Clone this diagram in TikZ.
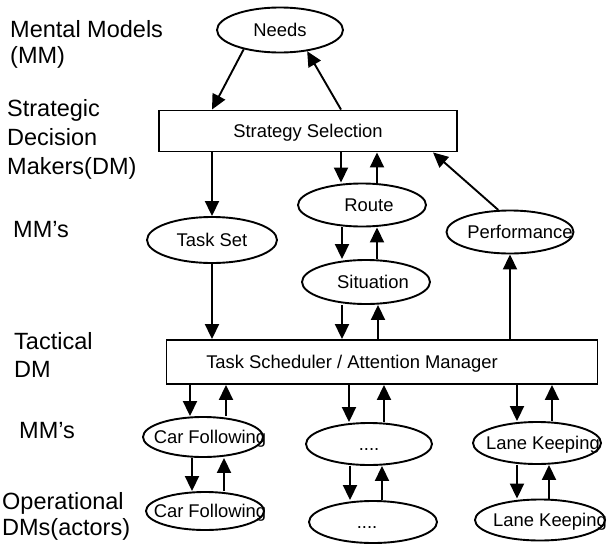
\documentclass[tikz,border=0pt]{standalone}
\usepackage{fontspec}
\setmainfont{Liberation Sans}
\usetikzlibrary{arrows.meta,calc,shapes.geometric}
\newcommand\nodefont{\fontsize{18.4pt}{22pt}\selectfont}
\newcommand\lblfont{\fontsize{23.5pt}{28pt}\selectfont}
\newcommand\shtext[2]{\makebox[0pt]{\hspace*{#1}\hspace*{#1}#2}}
\begin{document}
\begin{tikzpicture}[x=1pt,y=-1pt,
  ell/.style={ellipse,draw,line width=1.9pt,inner sep=0pt,text height=13pt,text depth=0pt,font=\nodefont},
  boxn/.style={rectangle,draw,line width=1.9pt,inner sep=0pt,text height=13pt,text depth=0pt,font=\nodefont},
  arr/.style={line width=1.9pt,-{Triangle[length=15pt,width=14pt]}},
  lbl/.style={anchor=base west,inner sep=0pt,font=\lblfont}]
\useasboundingbox (0,0) rectangle (608,544);
\fill[white] (0,0) rectangle (608,544);

% left labels
\node[lbl] (l1a) at (10,37) {Mental Models};
\node[lbl] (l1b) at (10,63) {(MM)};
\node[lbl] (l2a) at (7,116) {Strategic};
\node[lbl] (l2b) at (7,145) {Decision};
\node[lbl] (l2c) at (7,174) {Makers(DM)};
\node[lbl] (l3) at (13,237) {MM’s};
\node[lbl] (l4a) at (14,349) {Tactical};
\node[lbl] (l4b) at (14,377) {DM};
\node[lbl] (l5) at (19,438) {MM’s};
\node[lbl] (l6a) at (2,509) {Operational};
\node[lbl] (l6b) at (2,535) {DMs(actors)};

% nodes
\node[ell,minimum width=126pt,minimum height=45pt] (needs) at (280,30) {Needs};
\node[boxn,minimum width=298pt,minimum height=41pt] (ss) at (308,131) {Strategy Selection};
\node[ell,minimum width=130pt,minimum height=46pt] (taskset) at (212,240) {Task Set};
\node[ell,minimum width=128pt,minimum height=43pt] (route) at (362,205) {\shtext{7pt}{Route}};
\node[ell,minimum width=128pt,minimum height=44pt] (sit) at (366,282) {\shtext{7pt}{Situation}};
\node[ell,minimum width=127pt,minimum height=43pt] (perf) at (510,232) {\shtext{10pt}{Performance}};
\node[boxn,minimum width=431pt,minimum height=44pt] (tsch) at (382,362) {\shtext{-30pt}{Task Scheduler / Attention Manager}};
\node[ell,minimum width=120pt,minimum height=40pt] (cf1) at (203,437) {\shtext{7pt}{Car Following}};
\node[ell,minimum width=118pt,minimum height=38pt] (cf2) at (205,511) {\shtext{5pt}{Car Following}};
\node[ell,minimum width=126pt,minimum height=42pt] (m1) at (369,444) {....};
\node[ell,minimum width=128pt,minimum height=42pt] (m2) at (373,522) {\shtext{-6pt}{....}};
\node[ell,minimum width=128pt,minimum height=42pt] (lk1) at (537,443) {\shtext{6pt}{Lane Keeping}};
\node[ell,minimum width=130pt,minimum height=41pt] (lk2) at (540,520) {\shtext{10pt}{Lane Keeping}};

% upper connectors
\draw[arr] (needs.208) -- ($(ss.north)+(-96,0)$);
\draw[arr] ($(ss.north)+(33,0)$) -- (needs.322);
\draw[arr] (ss.south -| taskset.north) -- (taskset.north);
\draw[arr] (ss.south -| 341,0) -- (route.north -| 341,0);
\draw[arr] (route.north -| 377,0) -- (ss.south -| 377,0);
\draw[arr] (route.south -| 342,0) -- (sit.north -| 342,0);
\draw[arr] (sit.north -| 377,0) -- (route.south -| 377,0);
\draw[arr] (sit.south -| 342,0) -- (tsch.north -| 342,0);
\draw[arr] (tsch.north -| 378,0) -- (sit.south -| 378,0);
\draw[arr] (perf.118) -- ($(ss.south)+(125,0)$);
\draw[arr] (tsch.north -| perf.south) -- (perf.south);
\draw[arr] (taskset.south) -- (tsch.north -| taskset.south);

% lower connectors
\draw[arr] (tsch.south -| 190,0) -- (cf1.north -| 190,0);
\draw[arr] (cf1.north -| 226,0) -- (tsch.south -| 226,0);
\draw[arr] (cf1.south -| 192,0) -- (cf2.north -| 192,0);
\draw[arr] (cf2.north -| 224,0) -- (cf1.south -| 224,0);
\draw[arr] (tsch.south -| 349,0) -- (m1.north -| 349,0);
\draw[arr] (m1.north -| 384,0) -- (tsch.south -| 384,0);
\draw[arr] (m1.south -| 350,0) -- (m2.north -| 350,0);
\draw[arr] (m2.north -| 382,0) -- (m1.south -| 382,0);
\draw[arr] (tsch.south -| 517,0) -- (lk1.north -| 517,0);
\draw[arr] (lk1.north -| 552,0) -- (tsch.south -| 552,0);
\draw[arr] (lk1.south -| 517,0) -- (lk2.north -| 517,0);
\draw[arr] (lk2.north -| 549,0) -- (lk1.south -| 549,0);
\end{tikzpicture}
\end{document}
